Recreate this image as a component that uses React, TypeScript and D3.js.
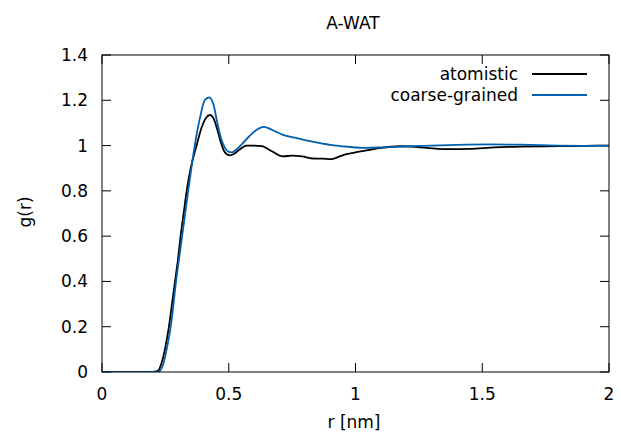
import React from "react";
import * as d3 from "d3";

const atomR = [0, 0.2, 0.22, 0.235, 0.25, 0.264, 0.276, 0.288, 0.3, 0.31, 0.322, 0.334, 0.35, 0.373, 0.393, 0.41, 0.426, 0.44, 0.455, 0.47, 0.482, 0.495, 0.505, 0.52, 0.54, 0.57, 0.6, 0.63, 0.67, 0.713, 0.75, 0.79, 0.83, 0.87, 0.906, 0.94, 0.965, 1.0, 1.05, 1.1, 1.176, 1.22, 1.28, 1.37, 1.45, 1.55, 1.65, 1.75, 1.85, 1.95, 2.0];
const atomG = [0, 0, 0.005, 0.04, 0.11, 0.2, 0.3, 0.4, 0.5, 0.6, 0.7, 0.8, 0.9, 1.0, 1.08, 1.122, 1.135, 1.12, 1.07, 1.01, 0.975, 0.96, 0.957, 0.963, 0.98, 1.0, 1.0, 0.998, 0.975, 0.952, 0.956, 0.952, 0.943, 0.942, 0.94, 0.953, 0.962, 0.97, 0.98, 0.99, 0.997, 0.995, 0.99, 0.984, 0.985, 0.992, 0.995, 0.997, 0.998, 1.0, 1.0];

const cgR = [0, 0.2, 0.225, 0.24, 0.255, 0.271, 0.282, 0.292, 0.304, 0.316, 0.328, 0.34, 0.355, 0.372, 0.39, 0.405, 0.423, 0.44, 0.455, 0.47, 0.485, 0.5, 0.512, 0.53, 0.555, 0.58, 0.61, 0.639, 0.67, 0.714, 0.76, 0.83, 0.9, 0.94, 1.03, 1.1, 1.2, 1.3, 1.4, 1.53, 1.65, 1.8, 1.9, 2.0];
const cgG = [0, 0, 0.003, 0.03, 0.1, 0.2, 0.3, 0.4, 0.5, 0.6, 0.7, 0.8, 0.92, 1.04, 1.14, 1.2, 1.213, 1.18, 1.1, 1.03, 0.99, 0.972, 0.97, 0.983, 1.01, 1.04, 1.07, 1.083, 1.07, 1.047, 1.035, 1.017, 1.003, 0.998, 0.99, 0.992, 0.997, 1.0, 1.003, 1.005, 1.004, 1.0, 0.999, 1.0];

const xTicks = [0, 0.5, 1, 1.5, 2];
const yTicks = [0, 0.2, 0.4, 0.6, 0.8, 1, 1.2, 1.4];
const seriesNames = ["atomistic", "coarse-grained"];
const seriesColors = ["#000000", "#0060ad"];

const W = 621, H = 437;
const L = 102, R = 609, T = 55, B = 372;
const font = "DejaVu Sans";
const FS = 17;

export default function App() {
  const x = d3.scaleLinear().domain([0, 2]).range([L, R]);
  const y = d3.scaleLinear().domain([0, 1.4]).range([B, T]);
  const line = d3.line<[number, number]>().x(d => x(d[0])).y(d => y(d[1])).curve(d3.curveMonotoneX);
  const series = [
    atomR.map((r, i) => [r, atomG[i]] as [number, number]),
    cgR.map((r, i) => [r, cgG[i]] as [number, number]),
  ];
  const tk = 9;
  return (
    <svg width={W} height={H} style={{ position: "absolute", left: 0, top: 0, background: "#fff" }} fontFamily={font}>
      <rect x={0} y={0} width={W} height={H} fill="#fff" />
      <text x={353} y={29} textAnchor="middle" fontSize={FS}>A-WAT</text>
      {xTicks.map(t => (
        <g key={"x" + t}>
          <line x1={x(t)} x2={x(t)} y1={B} y2={B - tk} stroke="#000" />
          <line x1={x(t)} x2={x(t)} y1={T} y2={T + tk} stroke="#000" />
          <text x={x(t)} y={400} textAnchor="middle" fontSize={FS}>{t}</text>
        </g>
      ))}
      {yTicks.map(t => (
        <g key={"y" + t}>
          <line x1={L} x2={L + tk} y1={y(t)} y2={y(t)} stroke="#000" />
          <line x1={R} x2={R - tk} y1={y(t)} y2={y(t)} stroke="#000" />
          <text x={88} y={y(t) + 6} textAnchor="end" fontSize={FS}>{t}</text>
        </g>
      ))}
      <g clipPath="url(#clip)">
        <defs>
          <clipPath id="clip"><rect x={L} y={T} width={R - L} height={B - T} /></clipPath>
        </defs>
        {series.map((s, i) => (
          <path key={i} d={line(s) || ""} fill="none" stroke={seriesColors[i]} strokeWidth={1.8} strokeLinejoin="round" />
        ))}
      </g>
      <rect x={L} y={T} width={R - L} height={B - T} fill="none" stroke="#000" strokeWidth={1} />
      {seriesNames.map((n, i) => (
        <g key={n}>
          <text x={518} y={80 + i * 21} textAnchor="end" fontSize={FS}>{n}</text>
          <line x1={532} x2={587} y1={74 + i * 21} y2={74 + i * 21} stroke={seriesColors[i]} strokeWidth={1.8} />
        </g>
      ))}
      <text x={354} y={428} textAnchor="middle" fontSize={FS}>r [nm]</text>
      <text transform={`translate(31,212) rotate(-90)`} textAnchor="middle" fontSize={FS}>g(r)</text>
    </svg>
  );
}
